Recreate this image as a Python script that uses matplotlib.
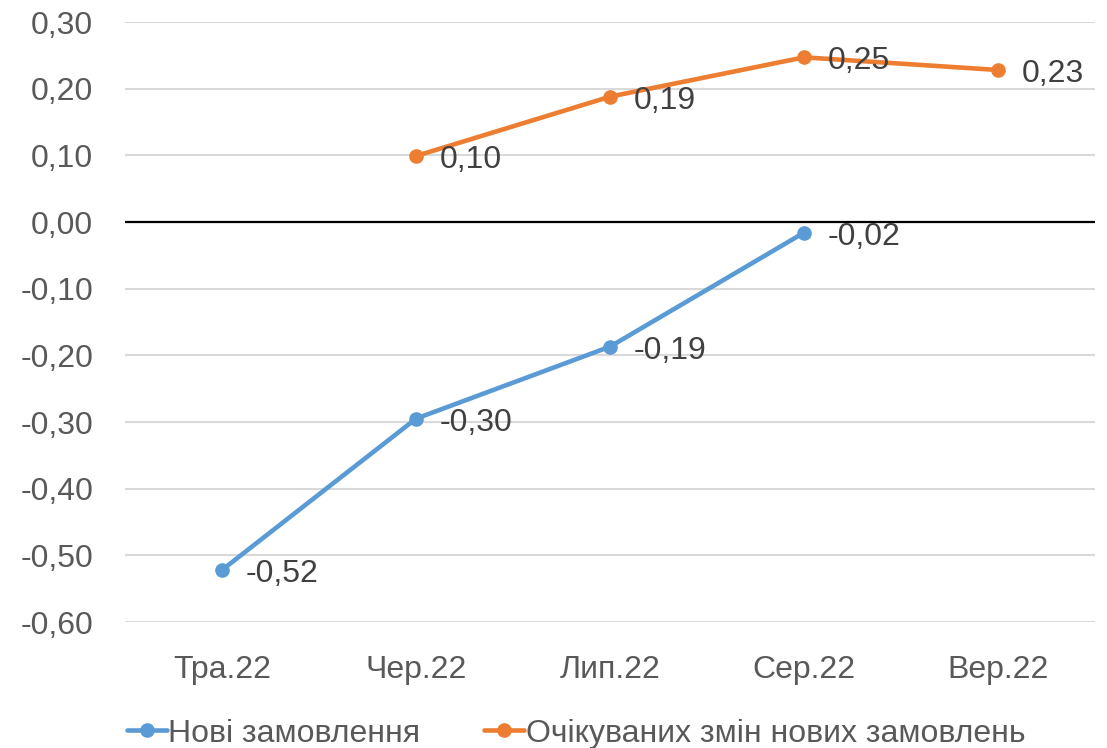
import numpy as np
import matplotlib
matplotlib.use("Agg")
import matplotlib.pyplot as plt

plt.rcParams["font.family"] = ["Liberation Sans", "DejaVu Sans"]

months = ["Тра.22", "Чер.22", "Лип.22", "Сер.22", "Вер.22"]
new_orders = [-0.522, -0.295, -0.187, -0.016, None]
expected = [None, 0.099, 0.188, 0.247, 0.228]
new_labels = ["-0,52", "-0,30", "-0,19", "-0,02", None]
exp_labels = [None, "0,10", "0,19", "0,25", "0,23"]
yticks = [0.3, 0.2, 0.1, 0.0, -0.1, -0.2, -0.3, -0.4, -0.5, -0.6]

blue = "#5B9BD5"
orange = "#ED7D31"

fig = plt.figure(figsize=(11.07, 7.48), dpi=100)
ax = fig.add_axes([125 / 1107, 126 / 748, 970 / 1107, 600 / 748])

x = np.arange(len(months))


def series(vals, labs, color, name):
    xs = [i for i, v in enumerate(vals) if v is not None]
    ys = [v for v in vals if v is not None]
    ax.plot(xs, ys, color=color, lw=3.3, marker="o", ms=9.5, label=name,
            solid_capstyle="round", zorder=3)
    for i, v in enumerate(vals):
        if v is None:
            continue
        ax.annotate(labs[i], (i, v), xytext=(17, -3), textcoords="offset points",
                    ha="left", va="center", fontsize=23, color="#404040", zorder=4)


series(new_orders, new_labels, blue, "Нові замовлення")
series(expected, exp_labels, orange, "Очікуваних змін нових замовлень")

ax.set_xlim(-0.5, len(months) - 0.5)
ax.set_ylim(-0.6, 0.3)
ax.set_yticks(yticks)
ax.set_yticklabels([f"{t:.2f}".replace(".", ",") for t in yticks])
ax.set_xticks(x)
ax.set_xticklabels(months)
ax.tick_params(length=0, labelsize=23, colors="#595959")
ax.tick_params(axis="y", pad=23)
ax.tick_params(axis="x", pad=24)
ax.grid(axis="y", color="#D9D9D9", lw=1.5)
ax.axhline(0, color="black", lw=1.6, zorder=2)
for s in ax.spines.values():
    s.set_visible(False)

ax.legend(loc="center", bbox_to_anchor=(0.465, -0.186), ncol=2, frameon=False,
          fontsize=23, labelcolor="#595959", handlelength=1.25, handletextpad=0.05,
          columnspacing=2.0, borderpad=0.2)

fig.savefig("out.png", dpi=100)
